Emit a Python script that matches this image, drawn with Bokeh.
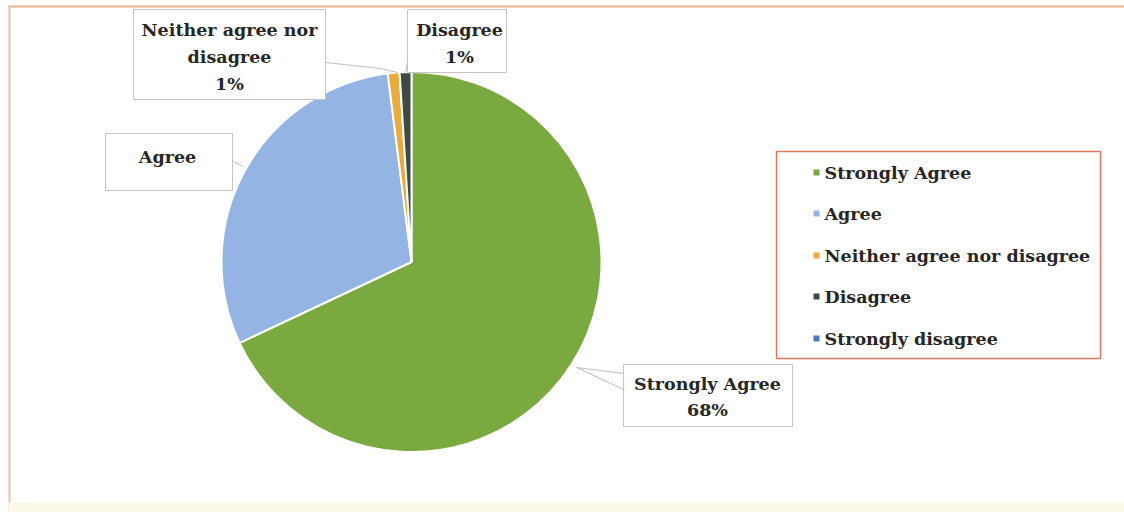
import math
from bokeh.plotting import figure
from bokeh.models import Range1d, ColumnDataSource
from bokeh.core.properties import value
from bokeh.embed import file_html
from bokeh.resources import INLINE

# ---- data ----
categories = ["Strongly Agree", "Agree", "Neither agree nor disagree", "Disagree", "Strongly disagree"]
percents = [68, 30, 1, 1, 0]
colors = ["#7AAA3F", "#94B5E4", "#EAAA3C", "#3E4B40", "#4A7BC6"]

W, H = 1124, 512
FONT = value("DejaVu Serif")
FSIZE = "17.5px"


def X(px):
    return px


def Y(py):
    return H - py


p = figure(width=W, height=H, x_range=Range1d(0, W), y_range=Range1d(0, H),
           output_backend="svg", toolbar_location=None, min_border=0)
p.axis.visible = False
p.grid.visible = False
p.outline_line_color = None
p.background_fill_color = "white"
p.border_fill_color = "white"

# outer chart border (top / left) and faint bottom strip
p.line([X(8), X(1124)], [Y(6), Y(6)], line_color="#F0B096", line_width=2)
p.line([X(9), X(9)], [Y(6), Y(512)], line_color="#E8C2B2", line_width=2)
p.quad(left=[X(8)], right=[X(1124)], bottom=[Y(512)], top=[Y(502)],
       fill_color="#FBF9E6", line_color=None)

# ---- pie ----
total = float(sum(percents))
starts, ends, cols = [], [], []
cum = 0.0
for v, c in zip(percents, colors):
    a0 = math.pi / 2 - 2 * math.pi * cum / total
    cum += v
    a1 = math.pi / 2 - 2 * math.pi * cum / total
    if v > 0:
        starts.append(a1)
        ends.append(a0)
        cols.append(c)

cx, cy, r = X(411), Y(261.5), 190
src = ColumnDataSource(dict(start=starts, end=ends, color=cols))
p.wedge(x=cx, y=cy, radius=r, start_angle="start", end_angle="end",
        direction="anticlock", fill_color="color", line_color="white",
        line_width=2, source=src)

# ---- data labels ----
leader_xs = [
    [X(576), X(623)], [X(576), X(623)],
    [X(232), X(242)],
    [X(325), X(380), X(397)],
    [X(407), X(405)],
]
leader_ys = [
    [Y(367), Y(373)], [Y(367), Y(389)],
    [Y(160), Y(166)],
    [Y(62), Y(68), Y(72)],
    [Y(62), Y(72)],
]
p.multi_line(xs=leader_xs, ys=leader_ys, line_color="#BDBDBD", line_width=1)

boxes = dict(
    left=[X(623), X(105), X(133), X(407)],
    right=[X(792), X(232), X(325), X(506)],
    top=[Y(364), Y(133), Y(9), Y(9)],
    bottom=[Y(426), Y(190), Y(99), Y(72)],
)
p.quad(fill_color="white", line_color="#C4C4C4", line_width=1, **boxes)

lbl_text = ["Strongly Agree", f"{percents[0]}%",
            "Agree",
            "Neither agree nor", "disagree", f"{percents[2]}%",
            "Disagree", f"{percents[3]}%"]
lbl_x = [X(707), X(707), X(167), X(229), X(229), X(229), X(459), X(459)]
lbl_y = [Y(383), Y(409), Y(156), Y(29), Y(56), Y(83), Y(29), Y(56)]
p.text(x=lbl_x, y=lbl_y, text=lbl_text, text_font=FONT, text_font_style="bold",
       text_font_size=FSIZE, text_color="#262626", text_align="center",
       text_baseline="middle")

# ---- legend ----
p.quad(left=[X(776)], right=[X(1100)], top=[Y(151)], bottom=[Y(358)],
       fill_color="white", line_color="#E2765E", line_width=1.5)
row_y = [Y(172), Y(213), Y(255), Y(296), Y(338)]
p.scatter(x=[X(816)] * len(categories), y=row_y, marker="square", size=6,
          fill_color=colors, line_color=None)
p.text(x=[X(824)] * len(categories), y=row_y, text=categories, text_font=FONT,
       text_font_style="bold", text_font_size=FSIZE, text_color="#262626",
       text_align="left", text_baseline="middle")

open("out.html", "w").write(file_html(p, INLINE))
